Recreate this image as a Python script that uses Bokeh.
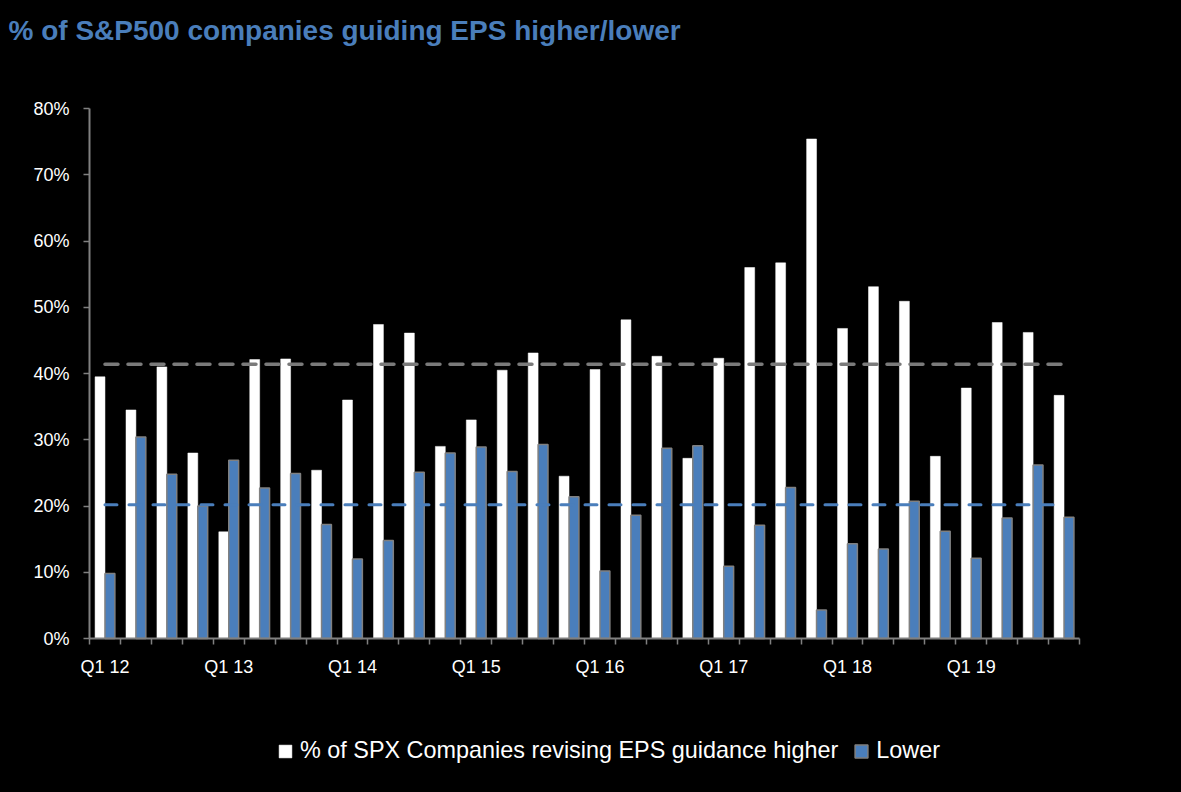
from bokeh.plotting import figure
from bokeh.models import (Range1d, FixedTicker, PrintfTickFormatter, Legend, LegendItem,
                          ColumnDataSource, Label)
from bokeh.embed import file_html
from bokeh.resources import INLINE

# ---------------- data ----------------
quarters = [f"Q{q} {y}" for y in range(12, 20) for q in range(1, 5)]
higher = [39.5, 34.5, 41.0, 28.0, 16.1, 42.1, 42.2, 25.4,
          36.0, 47.4, 46.1, 29.0, 33.0, 40.5, 43.1, 24.5,
          40.6, 48.1, 42.6, 27.2, 42.3, 56.0, 56.7, 75.4,
          46.8, 53.1, 50.9, 27.5, 37.8, 47.7, 46.2, 36.7]
lower = [9.8, 30.4, 24.8, 20.0, 26.9, 22.7, 24.9, 17.2,
         12.0, 14.8, 25.1, 28.0, 28.9, 25.2, 29.3, 21.4,
         10.2, 18.6, 28.7, 29.1, 10.9, 17.1, 22.8, 4.3,
         14.3, 13.5, 20.7, 16.2, 12.1, 18.2, 26.2, 18.3]
avg_higher = 41.4
avg_lower = 20.2
y_ticks = [0, 10, 20, 30, 40, 50, 60, 70, 80]
title_text = "% of S&P500 companies guiding EPS higher/lower"
legend_higher = "% of SPX Companies revising EPS guidance higher"
legend_lower = "Lower"

# ---------------- styling / layout ----------------
WHITE = "#ffffff"
BLUE = "#4a7ebb"
GRAY = "#808080"
FONT = "Liberation Sans"
BAR_W = 0.32
W, H = 1181, 792
PLOT_L, PLOT_R, PLOT_T, PLOT_B = 89, 1079, 108, 638   # pixel box of the axes area
n = len(quarters)
y_max = y_ticks[-1]
px_per_x = (PLOT_R - PLOT_L) / n
px_per_y = (PLOT_B - PLOT_T) / y_max
x_lo = -PLOT_L / px_per_x
x_hi = n + (W - PLOT_R) / px_per_x
y_lo = -(H - PLOT_B) / px_per_y
y_hi = y_max + PLOT_T / px_per_y

centers = [i + 0.5 for i in range(n)]
src = ColumnDataSource(dict(
    xh=[c - BAR_W / 2 for c in centers],
    xl=[c + BAR_W / 2 for c in centers],
    xc=centers,
    higher=higher, lower=lower,
    ah=[avg_higher] * n, al=[avg_lower] * n,
))

p = figure(frame_width=W, frame_height=H, min_border=0,
           x_range=Range1d(x_lo, x_hi), y_range=Range1d(y_lo, y_hi),
           output_backend="svg", toolbar_location=None,
           background_fill_color="black", border_fill_color="black")
p.outline_line_color = None
p.outline_line_alpha = 0
p.grid.visible = False

r_hi = p.vbar(x="xh", top="higher", width=BAR_W, source=src,
              fill_color=WHITE, line_color=WHITE, line_width=0.5)
r_lo = p.vbar(x="xl", top="lower", width=BAR_W, source=src,
              fill_color=BLUE, line_color=GRAY, line_width=1.5)

p.line(x="xc", y="ah", source=src, line_color="#7a7a7a", line_width=3.5,
       line_dash="13 10", line_cap="round")
p.line(x="xc", y="al", source=src, line_color=BLUE, line_width=3,
       line_dash="12 12", line_cap="round")

# x axis: ticks at category boundaries, labels at Q1 of each year
xa = p.xaxis[0]
xa.fixed_location = 0
xa.bounds = (0, n)
label_pos = [centers[i] for i in range(0, n, 4)]
xa.ticker = FixedTicker(ticks=label_pos, minor_ticks=list(range(n + 1)))
xa.major_label_overrides = {pos: quarters[i] for i, pos in zip(range(0, n, 4), label_pos)}
xa.major_tick_line_color = None
xa.major_tick_in = 0
xa.major_tick_out = 6
xa.minor_tick_in = 0
xa.minor_tick_out = 6
xa.minor_tick_line_color = GRAY
xa.minor_tick_line_width = 1.5
xa.axis_line_color = GRAY
xa.axis_line_width = 2
xa.major_label_standoff = 12
xa.major_label_text_color = "white"
xa.major_label_text_font = FONT
xa.major_label_text_font_size = "18px"

ya = p.yaxis[0]
ya.fixed_location = 0
ya.bounds = (0, y_max)
ya.ticker = FixedTicker(ticks=y_ticks, minor_ticks=[])
ya.formatter = PrintfTickFormatter(format="%d%%")
ya.major_tick_in = 0
ya.major_tick_out = 6
ya.major_tick_line_color = GRAY
ya.major_tick_line_width = 1.5
ya.axis_line_color = GRAY
ya.axis_line_width = 2
ya.major_label_standoff = 14
ya.major_label_text_color = "white"
ya.major_label_text_font = FONT
ya.major_label_text_font_size = "18px"

# title (positioned in data space left of / above the axes)
p.add_layout(Label(x=x_lo + 8 / px_per_x, y=y_max + (PLOT_T - 30) / px_per_y,
                   text=title_text, text_font=FONT, text_font_style="bold",
                   text_font_size="28px", text_color=BLUE,
                   text_baseline="middle", text_align="left"))

legend = Legend(items=[LegendItem(label=legend_higher, renderers=[r_hi]),
                       LegendItem(label=legend_lower, renderers=[r_lo])],
                orientation="horizontal", location=(277, 28),
                glyph_width=16, glyph_height=16, label_standoff=7, spacing=15,
                padding=0, margin=0, border_line_color=None,
                background_fill_alpha=0, label_text_color="white",
                label_text_font=FONT, label_text_font_size="23.4px")
p.add_layout(legend, "center")

html = file_html(p, INLINE)
html = html.replace("<head>", "<head><style>html,body{background:#000;}</style>", 1)
open("out.html", "w").write(html)
